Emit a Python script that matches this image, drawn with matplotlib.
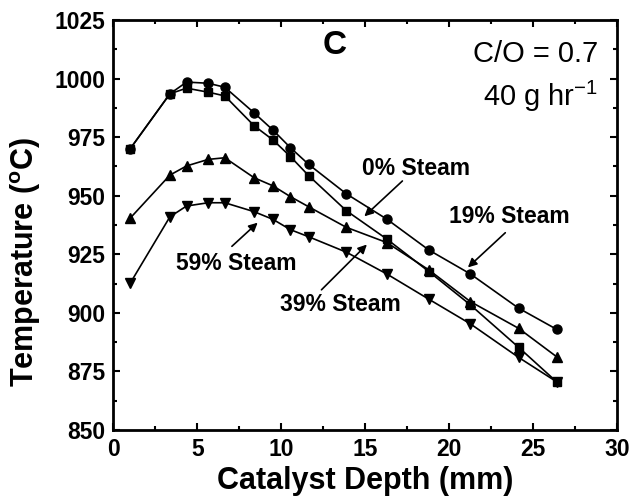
import matplotlib.pyplot as plt
from matplotlib.ticker import MultipleLocator

plt.rcParams['font.family'] = ['Liberation Sans', 'DejaVu Sans']

# catalyst depth (mm), same positions for every run
depth = [1.0, 3.37, 4.36, 5.65, 6.64, 8.38, 9.51, 10.55, 11.63, 13.88, 16.29, 18.8, 21.27, 24.14, 26.4]

# temperatures (C)
temp_circle = [970, 993.5, 998.5, 998, 996.3, 985.4, 978, 970.5, 963.4, 950.8, 940, 926.8, 916.6, 902, 893]
temp_square = [970, 993.5, 995.9, 994.2, 992.6, 979.9, 973.8, 966.7, 958.6, 943.6, 931.5, 917.6, 903.4, 885.3, 870.6]
temp_up = [940.4, 958.8, 962.7, 965.5, 966.2, 957.7, 954.2, 949.6, 945.3, 936.5, 930, 918.3, 904.8, 893.4, 881.3]
temp_down = [912.6, 941, 945.6, 947, 947, 943.2, 939.9, 935.5, 932.5, 925.9, 916.6, 905.8, 895.3, 881, 870.6]

fig = plt.figure(figsize=(6.44, 5), dpi=100)
ax = fig.add_axes([0.176, 0.14, 0.782, 0.82])

ax.plot(depth, temp_circle, '-o', color='black', lw=1.2, ms=6.5)
ax.plot(depth, temp_square, '-s', color='black', lw=1.2, ms=6)
ax.plot(depth, temp_up, '-^', color='black', lw=1.2, ms=7)
ax.plot(depth, temp_down, '-v', color='black', lw=1.2, ms=7)

ax.set_xlim(0, 30)
ax.set_ylim(850, 1025)
ax.xaxis.set_major_locator(MultipleLocator(5))
ax.xaxis.set_minor_locator(MultipleLocator(2.5))
ax.yaxis.set_major_locator(MultipleLocator(25))
ax.yaxis.set_minor_locator(MultipleLocator(12.5))
ax.tick_params(which='both', direction='in', top=True, right=True, width=1.5)
ax.tick_params(which='major', length=5, labelsize=16.5, pad=6)
ax.tick_params(which='minor', length=3)
for lab in ax.get_xticklabels() + ax.get_yticklabels():
    lab.set_fontweight('bold')
for sp in ax.spines.values():
    sp.set_linewidth(2)

ax.set_xlabel('Catalyst Depth (mm)', fontsize=22, fontweight='bold', labelpad=3)
ax.set_ylabel('Temperature ($^{\\mathregular{o}}$C)', fontsize=22, fontweight='bold')
ax.yaxis.set_label_coords(-0.14, 0.41)

# panel text
ax.text(13.2, 1014, 'C', fontsize=24, fontweight='bold', ha='center', va='center')
ax.text(28.9, 1010.5, 'C/O = 0.7', fontsize=21, ha='right', va='center')
ax.text(28.9, 992.5, '40 g hr$^{\\mathregular{-1}}$', fontsize=21, ha='right', va='center')

# arrows and labels
arrow = dict(arrowstyle='-|>', color='black', lw=1.2, mutation_scale=13)
ax.annotate('', xy=(14.83, 940.4), xytext=(17.34, 957.1), arrowprops=arrow)
ax.text(18.04, 961.7, '0% Steam', fontsize=16.5, fontweight='bold', ha='center', va='center')
ax.annotate('', xy=(21.0, 918.6), xytext=(23.47, 935), arrowprops=arrow)
ax.text(23.6, 941, '19% Steam', fontsize=16.5, fontweight='bold', ha='center', va='center')
ax.annotate('', xy=(15.22, 930), xytext=(12.28, 909), arrowprops=arrow)
ax.text(13.5, 903.4, '39% Steam', fontsize=16.5, fontweight='bold', ha='center', va='center')
ax.annotate('', xy=(8.72, 939.3), xytext=(6.94, 927.6), arrowprops=arrow)
ax.text(7.34, 921.2, '59% Steam', fontsize=16.5, fontweight='bold', ha='center', va='center')

fig.savefig('out.png', dpi=100)
